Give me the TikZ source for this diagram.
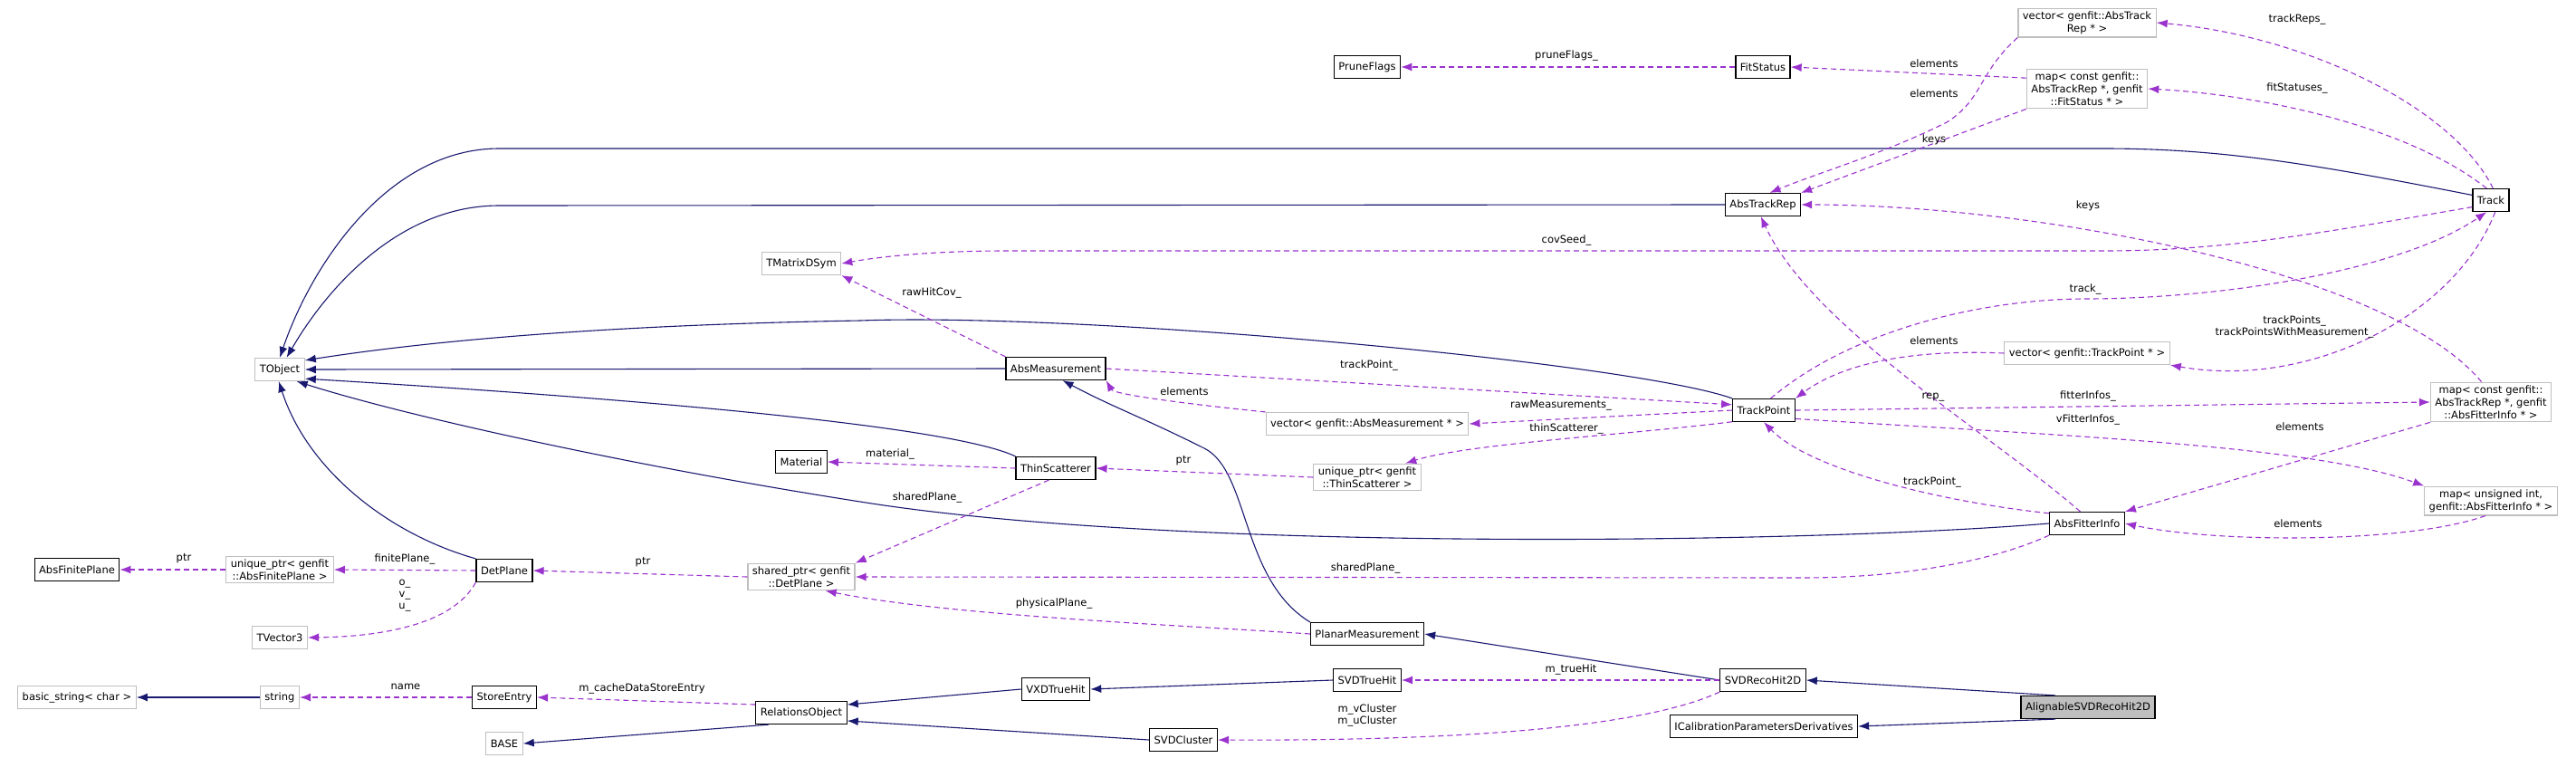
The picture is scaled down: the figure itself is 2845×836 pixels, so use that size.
\documentclass[tikz,border=0pt]{standalone}
\usepackage{fontspec}
\setmainfont{DejaVu Sans}
\usetikzlibrary{arrows.meta}
\definecolor{dx_navy}{HTML}{191970}
\definecolor{dx_purple}{HTML}{9A32CD}
\definecolor{dx_grey}{HTML}{BFBFBF}
\tikzset{
  cls/.style={draw=black, line width=1.2pt, fill=white, inner xsep=5pt, minimum height=25pt, align=center, font=\fontsize{11.5}{14}\selectfont},
  ext/.style={cls, draw=dx_grey},
  inherit/.style={dx_navy, line width=1.1pt, -{Latex[length=12pt,width=9pt]}},
  uses/.style={dx_purple, line width=1.1pt, dash pattern=on 6pt off 4pt, -{Latex[length=12pt,width=9pt]}},
  lbl/.style={font=\fontsize{11.5}{13}\selectfont, align=center, inner sep=0pt}
}

\begin{document}
\begin{tikzpicture}[x=1pt, y=-1pt]
            \useasboundingbox (0,0) rectangle (2845,836);
            % classes
            \node[ext] (tobject) at (309,408) {TObject};
            \node[ext] (tmatrix) at (885,291) {TMatrixDSym};
            \node[cls] (material) at (885,510) {Material};
            \node[cls] (absfinite) at (85,629) {AbsFinitePlane};
            \node[ext] (uqfinite) at (309,629) {unique\_ptr< genfit\\::AbsFinitePlane >};
            \node[cls] (detplane) at (557,630) {DetPlane};
            \node[ext] (shplane) at (885,637) {shared\_ptr< genfit\\::DetPlane >};
            \node[ext] (tvector) at (309,704) {TVector3};
            \node[ext] (basicstr) at (85,770) {basic\_string< char >};
            \node[ext] (string) at (309,770) {string};
            \node[cls] (storeentry) at (557,770) {StoreEntry};
            \node[cls] (relobj) at (885,787) {RelationsObject};
            \node[ext] (base) at (557,821) {BASE};
            \node[cls] (pruneflags) at (1510,74) {PruneFlags};
            \node[cls] (absmeas) at (1166,407) {AbsMeasurement};
            \node[ext] (vecmeas) at (1510,468) {vector< genfit::AbsMeasurement * >};
            \node[ext] (vecrep) at (2305,25) {vector< genfit::AbsTrack\\Rep * >};
            \node[cls] (fitstatus) at (1947,74) {FitStatus};
            \node[ext] (mapfit) at (2305,98) {map< const genfit::\\AbsTrackRep *, genfit\\::FitStatus * >};
            \node[cls] (absrep) at (1947,226) {AbsTrackRep};
            \node[cls] (track) at (2751,221) {Track};
            \node[ext] (vectp) at (2305,390) {vector< genfit::TrackPoint * >};
            \node[cls] (trackpoint) at (1948,453) {TrackPoint};
            \node[ext] (mapfitter) at (2751,444) {map< const genfit::\\AbsTrackRep *, genfit\\::AbsFitterInfo * >};
            \node[cls] (thinsc) at (1166,517) {ThinScatterer};
            \node[ext] (uqthin) at (1510,527) {unique\_ptr< genfit\\::ThinScatterer >};
            \node[ext] (mapuint) at (2751,553) {map< unsigned int,\\genfit::AbsFitterInfo * >};
            \node[cls] (absfitter) at (2305,578) {AbsFitterInfo};
            \node[cls] (planar) at (1510,700) {PlanarMeasurement};
            \node[cls] (svdtrue) at (1510,751) {SVDTrueHit};
            \node[cls] (svdreco) at (1947,751) {SVDRecoHit2D};
            \node[cls] (vxdtrue) at (1166,761) {VXDTrueHit};
            \node[cls] (svdcluster) at (1307,817) {SVDCluster};
            \node[cls, fill=dx_grey] (alignable) at (2306,781) {AlignableSVDRecoHit2D};
            \node[cls] (icalib) at (1948,802) {ICalibrationParametersDerivatives};

            % inheritance
            \draw[inherit] (track.165) .. controls (2550,180) and (2450,164) .. (2323,164) -- (551,164) .. controls (430,164) and (345,290) .. (tobject.north);
            \draw[inherit] (absrep.west) -- (551,227) .. controls (440,227) and (360,320) .. (tobject.60);
            \draw[inherit] (trackpoint.north west) .. controls (1800,400) and (1200,345) .. (950,354) .. controls (600,360) and (420,385) .. (tobject.20);
            \draw[inherit] (absmeas.west) -- (tobject.east);
            \draw[inherit] (thinsc.north west) .. controls (1050,470) and (700,440) .. (tobject.340);
            \draw[inherit] (absfitter.west) .. controls (2000,600) and (1300,610) .. (950,554) .. controls (700,515) and (450,460) .. (tobject.325);
            \draw[inherit] (detplane.north west) .. controls (430,590) and (340,520) .. (tobject.265);
            \draw[inherit] (planar.north west) .. controls (1370,640) and (1380,520) .. (1330,495) .. controls (1260,460) and (1230,450) .. (absmeas.300);
            \draw[inherit] (svdreco.west) -- (planar.east);
            \draw[inherit] (alignable.160) -- (svdreco.east);
            \draw[inherit] (alignable.200) -- (icalib.east);
            \draw[inherit] (svdtrue.west) -- (vxdtrue.east);
            \draw[inherit] (vxdtrue.west) -- (relobj.10);
            \draw[inherit] (svdcluster.west) -- (relobj.350);
            \draw[inherit] (relobj.200) -- (base.east);
            \draw[inherit] (string.west) -- (basicstr.east);

            % usage
            \draw[uses] (fitstatus.west) -- (pruneflags.east);
            \draw[uses] (mapfit.170) -- (fitstatus.east);
            \draw[uses] (vecrep.south west) .. controls (2185,80) and (2190,110) .. (2150,135) .. controls (2080,170) and (2010,190) .. (absrep.60);
            \draw[uses] (mapfit.south west) -- (absrep.north east);
            \draw[uses] (track.80) .. controls (2710,120) and (2550,40) .. (vecrep.east);
            \draw[uses] (track.110) .. controls (2660,140) and (2500,105) .. (mapfit.east);
            \draw[uses] (track.200) .. controls (2550,260) and (2450,277) .. (2323,277) -- (1112,277) .. controls (1040,277) and (980,282) .. (tmatrix.east);
            \draw[uses] (mapfitter.115) .. controls (2640,300) and (2250,226) .. (absrep.east);
            \draw[uses] (trackpoint.60) .. controls (2050,360) and (2200,330) .. (2303,330) .. controls (2450,330) and (2650,300) .. (track.250);
            \draw[uses] (track.290) .. controls (2710,350) and (2550,430) .. (vectp.south east);
            \draw[uses] (vectp.west) .. controls (2100,385) and (2030,405) .. (trackpoint.north east);
            \draw[uses] (absmeas.east) -- (trackpoint.170);
            \draw[uses] (absmeas.north west) -- (tmatrix.south east);
            \draw[uses] (vecmeas.north west) .. controls (1300,445) and (1230,435) .. (absmeas.south east);
            \draw[uses] (trackpoint.west) -- (vecmeas.east);
            \draw[uses] (trackpoint.200) .. controls (1800,480) and (1620,490) .. (uqthin.20);
            \draw[uses] (trackpoint.east) -- (mapfitter.west);
            \draw[uses] (trackpoint.345) .. controls (2250,480) and (2550,490) .. (mapuint.north west);
            \draw[uses] (mapfitter.south west) -- (absfitter.north east);
            \draw[uses] (mapuint.250) .. controls (2660,600) and (2450,600) .. (absfitter.east);
            \draw[uses] (absfitter.165) .. controls (2150,555) and (2000,520) .. (trackpoint.south);
            \draw[uses] (absfitter.120) .. controls (2200,480) and (2000,360) .. (absrep.260);
            \draw[uses] (absfitter.south west) .. controls (2200,620) and (2100,638) .. (1992,638) -- (shplane.east);
            \draw[uses] (uqthin.west) -- (thinsc.east);
            \draw[uses] (thinsc.west) -- (material.east);
            \draw[uses] (thinsc.240) -- (shplane.north east);
            \draw[uses] (shplane.west) -- (detplane.east);
            \draw[uses] (planar.west) .. controls (1300,690) and (1050,680) .. (shplane.330);
            \draw[uses] (detplane.west) -- (uqfinite.east);
            \draw[uses] (uqfinite.west) -- (absfinite.east);
            \draw[uses] (detplane.south west) .. controls (500,690) and (420,703) .. (tvector.east);
            \draw[uses] (svdreco.west |- svdtrue) -- (svdtrue.east);
            \draw[uses] (svdreco.south west) .. controls (1800,810) and (1550,818) .. (svdcluster.east);
            \draw[uses] (relobj.170) -- (storeentry.east);
            \draw[uses] (storeentry.west) -- (string.east);

            % labels
            \node[lbl] (l_prune) at (1730,61) {pruneFlags\_};
            \node[lbl] (l_elfs) at (2136,70) {elements};
            \node[lbl] (l_elrep) at (2136,103) {elements};
            \node[lbl] (l_keys) at (2136,154) {keys};
            \node[lbl] (l_reps) at (2537,21) {trackReps\_};
            \node[lbl] (l_stat) at (2537,97) {fitStatuses\_};
            \node[lbl] (l_keys2) at (2306,227) {keys};
            \node[lbl] (l_track) at (2303,319) {track\_};
            \node[lbl] (l_tps) at (2534,361) {trackPoints\_\\trackPointsWithMeasurement\_};
            \node[lbl] (l_eltp) at (2136,376) {elements};
            \node[lbl] (l_rep) at (2135,439) {rep\_};
            \node[lbl] (l_fi) at (2306,437) {fitterInfos\_};
            \node[lbl] (l_vfi) at (2306,463) {vFitterInfos\_};
            \node[lbl] (l_elfi) at (2540,471) {elements};
            \node[lbl] (l_cov) at (1730,265) {covSeed\_};
            \node[lbl] (l_raw) at (1029,323) {rawHitCov\_};
            \node[lbl] (l_tp) at (1512,403) {trackPoint\_};
            \node[lbl] (l_elam) at (1308,432) {elements};
            \node[lbl] (l_rawm) at (1724,448) {rawMeasurements\_};
            \node[lbl] (l_thin) at (1730,473) {thinScatterer\_};
            \node[lbl] (l_mat) at (983,501) {material\_};
            \node[lbl] (l_ptr1) at (1307,509) {ptr};
            \node[lbl] (l_sh1) at (1024,549) {sharedPlane\_};
            \node[lbl] (l_elfi2) at (2538,578) {elements};
            \node[lbl] (l_tp2) at (2134,532) {trackPoint\_};
            \node[lbl] (l_sh2) at (1508,627) {sharedPlane\_};
            \node[lbl] (l_phys) at (1164,666) {physicalPlane\_};
            \node[lbl] (l_true) at (1735,739) {m\_trueHit};
            \node[lbl] (l_clus) at (1510,790) {m\_vCluster\\m\_uCluster};
            \node[lbl] (l_ptr2) at (203,617) {ptr};
            \node[lbl] (l_fin) at (447,617) {finitePlane\_};
            \node[lbl] (l_ovu) at (447,658) {o\_\\v\_\\u\_};
            \node[lbl] (l_ptr3) at (710,621) {ptr};
            \node[lbl] (l_name) at (448,758) {name};
            \node[lbl] (l_cache) at (709,760) {m\_cacheDataStoreEntry};
\end{tikzpicture}
\end{document}
